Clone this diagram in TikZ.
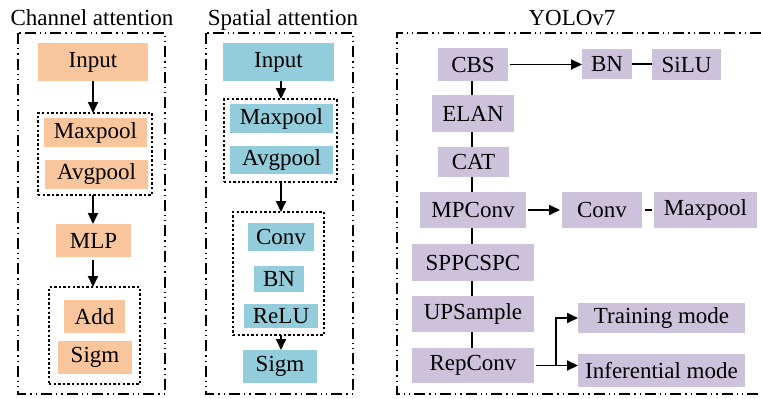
\documentclass[tikz,border=0pt]{standalone}
\usepackage{fontspec}
\setmainfont{Liberation Serif}
\usetikzlibrary{arrows.meta,calc}
\definecolor{peach}{HTML}{F9C59C}
\definecolor{teal}{HTML}{93CDDB}
\definecolor{lav}{HTML}{CDC2DC}
\newcommand{\bx}[7]{\node[#7, minimum width={(#4-#2)*1pt}, minimum height={(#5-#3)*1pt}] (#1) at ({(#2+#4)/2},{(#3+#5)/2}) {#6};}
\tikzset{
  base/.style={inner sep=0pt, outer sep=0pt, font=\fontsize{23}{27}\selectfont},
  pbox/.style={base, fill=peach},
  tbox/.style={base, fill=teal},
  lbox/.style={base, fill=lav},
  dotbox/.style={base, draw, line width=1.8pt, dash pattern=on 2.4pt off 2.2pt},
  outer/.style={line width=1.8pt, dash pattern=on 11pt off 4pt on 1.3pt off 4pt on 1.3pt off 4pt},
  arr/.style={line width=1.9pt, -{Triangle[length=11pt,width=10pt]}},
  ln/.style={line width=1.9pt},
  ttl/.style={font=\fontsize{23}{27}\selectfont, anchor=base, inner sep=0pt}
}
\begin{document}
\begin{tikzpicture}[x=1pt,y=-1pt]
\useasboundingbox (0,0) rectangle (761,399);
% titles
\node[ttl] (t1) at (92,25) {Channel attention};
\node[ttl] (t2) at (283,25) {Spatial attention};
\node[ttl] (t3) at (572,25) {YOLOv7};
% outer boxes
\draw[outer] (18,33) rectangle (165,394);
\draw[outer] (206,33) rectangle (353,394);
\draw[outer] (761,33) -- (397,33) -- (397,394) -- (761,394);
% Channel attention
\bx{cin}{38}{43}{148}{81}{Input}{pbox}
\bx{cd1}{38}{113}{152}{195}{}{dotbox}
\bx{cmax}{44}{118}{147}{147}{Maxpool}{pbox}
\bx{cavg}{45}{160}{148}{189}{Avgpool}{pbox}
\bx{cmlp}{56}{224}{131}{257}{MLP}{pbox}
\bx{cd2}{49}{287}{140}{384}{}{dotbox}
\bx{cadd}{64}{300}{125}{333}{Add}{pbox}
\bx{csig}{58}{341}{132}{374}{Sigm}{pbox}
\draw[arr] (cin.south -| 93,0) -- (cd1.north -| 93,0);
\draw[arr] (cd1.south -| 93,0) -- (cmlp.north -| 93,0);
\draw[arr] (cmlp.south -| 93,0) ++(0,3) -- (cd2.north -| 93,0);
% Spatial attention
\bx{sin}{223}{43}{334}{81}{Input}{tbox}
\bx{sd1}{224}{99}{337}{182}{}{dotbox}
\bx{smax}{230}{104}{333}{133}{Maxpool}{tbox}
\bx{savg}{230}{146}{333}{174}{Avgpool}{tbox}
\bx{sd2}{233}{212}{324}{335}{}{dotbox}
\bx{sconv}{248}{223}{314}{251}{Conv}{tbox}
\bx{sbn}{254}{266}{304}{292}{BN}{tbox}
\bx{srelu}{244}{304}{318}{328}{ReLU}{tbox}
\bx{ssig}{243}{350}{317}{383}{Sigm}{tbox}
\draw[arr] (sin.south -| 281,0) -- (sd1.north -| 281,0);
\draw[arr] (sd1.south -| 281,0) -- (sd2.north -| 281,0);
\draw[arr] (sd2.south -| 281,0) -- (ssig.north -| 281,0);
% YOLOv7
\bx{cbs}{438}{48}{508}{81}{CBS}{lbox}
\bx{bn}{582}{49}{632}{79}{BN}{lbox}
\bx{silu}{652}{49}{721}{80}{SiLU}{lbox}
\bx{elan}{432}{95}{514}{132}{ELAN}{lbox}
\bx{cat}{438}{147}{509}{177}{CAT}{lbox}
\bx{mpc}{420}{192}{526}{228}{MPConv}{lbox}
\bx{conv}{562}{192}{642}{228}{Conv}{lbox}
\bx{maxp}{654}{192}{757}{228}{Maxpool}{lbox}
\bx{spp}{412}{244}{534}{281}{SPPCSPC}{lbox}
\bx{ups}{412}{296}{534}{332}{UPSample}{lbox}
\bx{rep}{412}{348}{534}{383}{RepConv}{lbox}
\bx{train}{578}{303}{745}{333}{Training mode}{lbox}
\bx{infer}{578}{354}{745}{387}{Inferential mode}{lbox}
\draw[arr] ($(cbs.east)+(2,0)$) -- (bn.west |- cbs.east);
\draw[ln] (bn.east) -- (silu.west |- bn.east);
\draw[arr] ($(mpc.east)+(2,0)$) -- ($(conv.west |- mpc.east)+(-2,0)$);
\draw[ln] ($(conv.east)+(3,0)$) -- ($(maxp.west)+(-2,0)$);
\draw[ln] (cbs.south -| 472,0) -- (elan.north -| 472,0);
\draw[ln] (elan.south -| 472,0) -- (cat.north -| 472,0);
\draw[ln] (cat.south -| 472,0) -- (mpc.north -| 472,0);
\draw[ln] (mpc.south -| 472,0) -- (spp.north -| 472,0);
\draw[ln] (spp.south -| 472,0) -- (ups.north -| 472,0);
\draw[ln] (ups.south -| 472,0) -- (rep.north -| 472,0);
\coordinate (sp) at (556,365.5);
\draw[arr] ($(rep.east)+(2,0)$) -- (rep.east -| infer.west);
\draw[arr] (sp) |- (train.west);
\end{tikzpicture}
\end{document}
